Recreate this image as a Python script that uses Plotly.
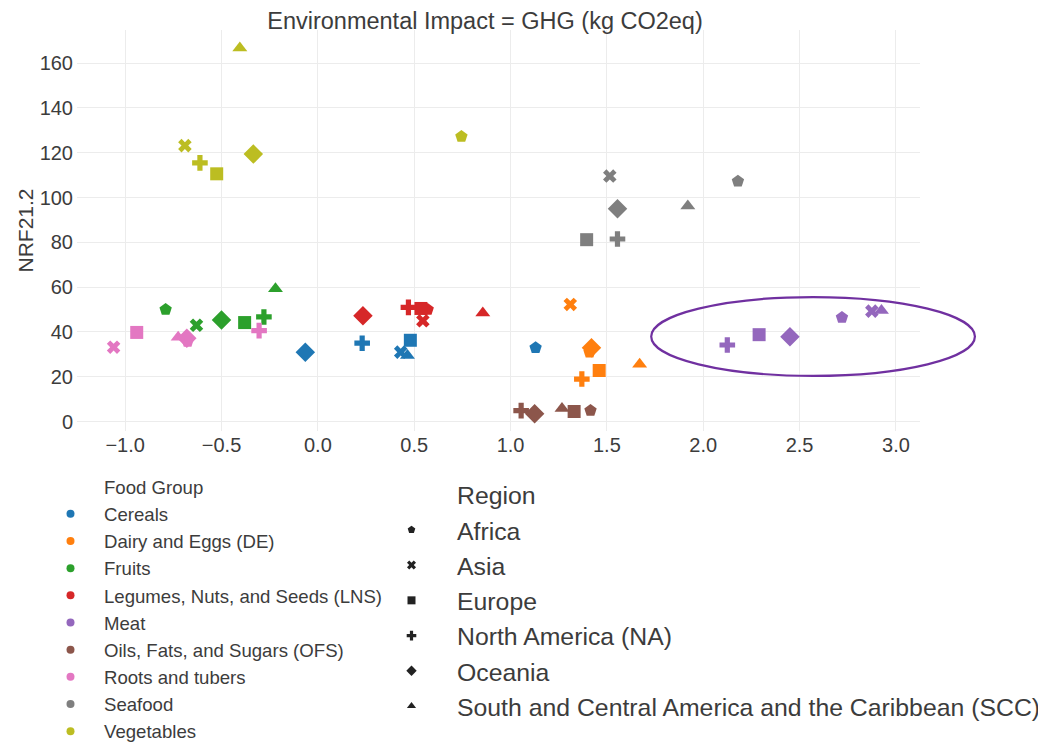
import plotly.graph_objects as go

# ---------------- data ----------------
food_groups = ["Cereals", "Dairy and Eggs (DE)", "Fruits", "Legumes, Nuts, and Seeds (LNS)",
               "Meat", "Oils, Fats, and Sugars (OFS)", "Roots and tubers", "Seafood", "Vegetables"]
group_colors = ["#1f77b4", "#ff7f0e", "#2ca02c", "#d62728", "#9467bd",
                "#8c564b", "#e377c2", "#7f7f7f", "#bcbd22"]

regions = ["Africa", "Asia", "Europe", "North America (NA)", "Oceania",
           "South and Central America and the Caribbean (SCC)"]
region_symbols = ["pentagon", "x", "square", "cross", "diamond", "triangle-up"]
region_marker_sizes = [13, 12, 13, 13, 15, 13]

# values per food group, ordered as the regions list
ghg = {
    "Cereals":                        [1.13, 0.43, 0.48, 0.23, -0.065, 0.465],
    "Dairy and Eggs (DE)":            [1.41, 1.31, 1.46, 1.37, 1.42, 1.67],
    "Fruits":                         [-0.79, -0.63, -0.38, -0.28, -0.50, -0.22],
    "Legumes, Nuts, and Seeds (LNS)": [0.57, 0.545, 0.535, 0.47, 0.234, 0.856],
    "Meat":                           [2.72, 2.875, 2.29, 2.125, 2.45, 2.925],
    "Oils, Fats, and Sugars (OFS)":   [1.415, 1.055, 1.33, 1.055, 1.125, 1.267],
    "Roots and tubers":               [-0.676, -1.06, -0.94, -0.305, -0.68, -0.725],
    "Seafood":                        [2.18, 1.515, 1.395, 1.555, 1.555, 1.92],
    "Vegetables":                     [0.745, -0.69, -0.525, -0.612, -0.335, -0.405],
}
nrf = {
    "Cereals":                        [33.0, 31.0, 36.3, 35.0, 31.0, 29.5],
    "Dairy and Eggs (DE)":            [31.0, 52.3, 22.8, 19.0, 33.0, 25.6],
    "Fruits":                         [50.0, 43.0, 44.2, 46.7, 45.3, 59.3],
    "Legumes, Nuts, and Seeds (LNS)": [50.0, 45.0, 50.5, 51.0, 47.2, 48.5],
    "Meat":                           [46.5, 49.3, 38.8, 34.2, 37.9, 49.6],
    "Oils, Fats, and Sugars (OFS)":   [4.9, 0, 4.5, 4.9, 3.5, 5.8],
    "Roots and tubers":               [35.8, 33.2, 39.8, 40.6, 37.2, 37.6],
    "Seafood":                        [107.3, 109.6, 81.2, 81.5, 95.0, 96.2],
    "Vegetables":                     [127.3, 123.2, 110.6, 115.5, 119.4, 166.8],
}
# OFS has no Asia point visible; mark as missing
missing = {("Oils, Fats, and Sugars (OFS)", "Asia")}

title_text = "Environmental Impact = GHG (kg CO2eq)"
y_title = "NRF21.2"
x_range = [-1.25, 3.125]
y_range = [-4.2, 174.8]
# highlighted cluster (ellipse) in data units
ell_x = [1.73, 3.41]
ell_y = [20.4, 55.6]

FONT = "Arial, Liberation Sans, Helvetica, sans-serif"
TXT = "#3c3c3c"
W, H = 1046, 745
ML, MT = 69, 22
PW, PH = 843, 401
MR, MB = W - ML - PW, H - MT - PH

fig = go.Figure()

for g, c in zip(food_groups, group_colors):
    xs, ys, syms, sz = [], [], [], []
    for i, r in enumerate(regions):
        if (g, r) in missing:
            continue
        xs.append(ghg[g][i]); ys.append(nrf[g][i])
        syms.append(region_symbols[i]); sz.append(region_marker_sizes[i])
    fig.add_trace(go.Scatter(x=xs, y=ys, mode="markers", showlegend=False,
                             marker=dict(color=c, size=sz, symbol=syms, opacity=1,
                                         line=dict(width=0)),
                             name=g, hoverinfo="skip"))

# legend 1: food groups (header as a marker-less entry)
fig.add_trace(go.Scatter(x=[None], y=[None], mode="markers", name="Food Group",
                         marker=dict(size=8, color="rgba(0,0,0,0)"), legend="legend"))
for g, c in zip(food_groups, group_colors):
    fig.add_trace(go.Scatter(x=[None], y=[None], mode="markers", name=g,
                             marker=dict(size=8, color=c, symbol="circle"), legend="legend"))

# legend 2: regions
fig.add_trace(go.Scatter(x=[None], y=[None], mode="markers", name="Region",
                         marker=dict(size=8, color="rgba(0,0,0,0)"), legend="legend2"))
for r, s in zip(regions, region_symbols):
    fig.add_trace(go.Scatter(x=[None], y=[None], mode="markers", name=r,
                             marker=dict(size=8, color="#222222", symbol=s), legend="legend2"))

def px_(v):
    return (v - x_range[0]) / (x_range[1] - x_range[0])

def py_(v):
    return (v - y_range[0]) / (y_range[1] - y_range[0])

fig.add_shape(type="circle", xref="paper", yref="paper",
              x0=px_(ell_x[0]), x1=px_(ell_x[1]), y0=py_(ell_y[0]), y1=py_(ell_y[1]),
              line=dict(color="#7030A0", width=2.2), fillcolor="rgba(0,0,0,0)", layer="above")

fig.update_layout(
    width=W, height=H,
    template="plotly_white",
    paper_bgcolor="white", plot_bgcolor="white",
    font=dict(family=FONT, color=TXT, size=18),
    margin=dict(l=ML, r=MR, t=MT, b=MB, autoexpand=False),
    title=dict(text=title_text, x=477 / W, xanchor="center", xref="container",
               y=1 - 13 / H, yanchor="middle", yref="container",
               font=dict(size=23.5, color=TXT, family=FONT)),
    xaxis=dict(range=x_range, dtick=0.5, tick0=0, tickformat=".1f", showgrid=True,
               gridcolor="#ececec", zeroline=False, showline=False, automargin=False,
               tickfont=dict(size=20, color=TXT), ticks=""),
    yaxis=dict(range=y_range, dtick=20, tick0=0, showgrid=True, gridcolor="#ececec",
               zeroline=False, showline=False, automargin=False, ticklabelstandoff=3,
               tickfont=dict(size=20, color=TXT),
               title=dict(text=y_title, font=dict(size=21, color=TXT), standoff=0)),
    legend=dict(xref="paper", yref="container", x=(29 - ML) / PW, y=1 - 460 / H,
                xanchor="left", yanchor="top", font=dict(size=18.6, color=TXT),
                itemsizing="trace", itemwidth=57, bgcolor="rgba(0,0,0,0)", tracegroupgap=0),
    legend2=dict(xref="paper", yref="container", x=(358 - ML) / PW, y=1 - 464 / H,
                 xanchor="left", yanchor="top", font=dict(size=24.8, color=TXT),
                 itemsizing="trace", itemwidth=81, bgcolor="rgba(0,0,0,0)", tracegroupgap=0),
)

fig.write_html("out.html")
